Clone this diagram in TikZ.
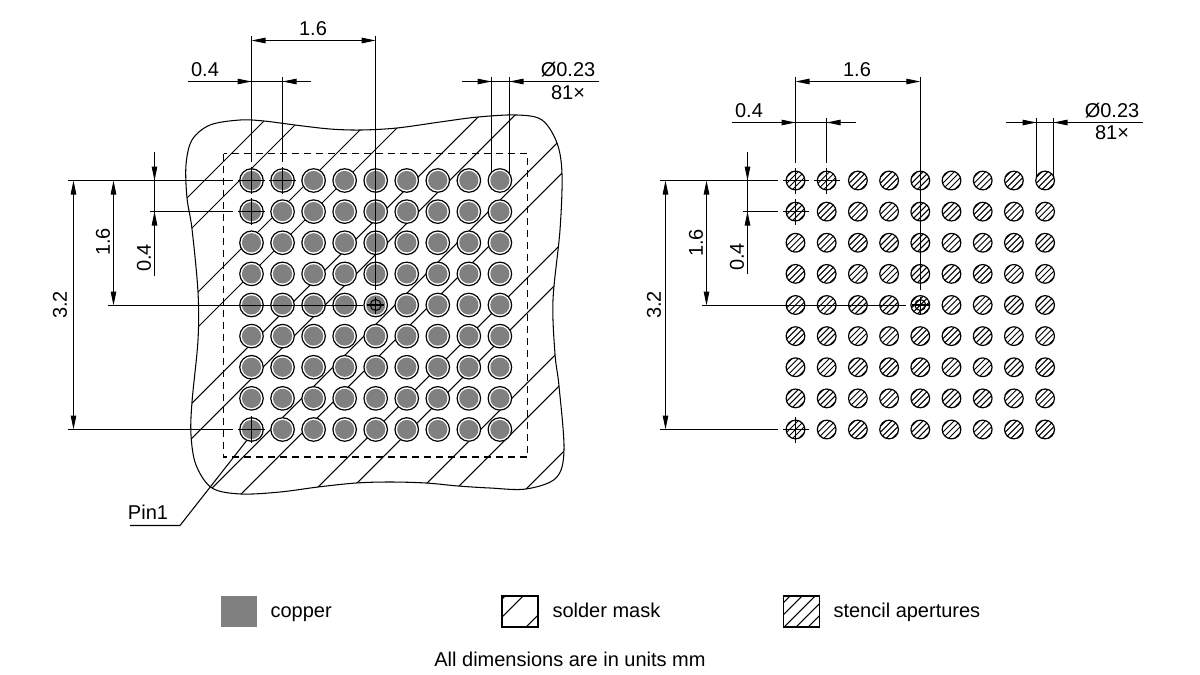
\documentclass[tikz,border=0pt]{standalone}
\usepackage{fontspec}
\setmainfont{Liberation Sans}
\usetikzlibrary{arrows.meta}
\definecolor{copper}{RGB}{128,128,128}
\newcommand{\maskshape}% outline of the solder mask
{plot[smooth cycle,tension=.55] coordinates {(186,165) (192,140) (210,125) (240,120) (264,121) (295,125) (330,129) (361,130) (397,128) (440,122) (478,117) (517,115) (542,120) (557,143) (562,174) (560,230) (553,300) (555,354) (559,386) (564,450) (556,478) (526,489) (490,488) (458,486) (426,483) (390,482) (356,483) (318,487) (280,492) (241,494) (212,488) (196,465) (191,435) (192,402) (198,340) (198,292) (192,229) (187,198)}
}
\newcommand{\crosshair}[2]% node, half length
{(#1.center) ++(-#2,0) -- ++(2*#2,0) (#1.center) ++(0,-#2) -- ++(0,2*#2)
}

\begin{document}
\begin{tikzpicture}[x=1pt,y=-1pt,line width=1.05pt]
\tikzstyle{maskpad}=[draw,shape=circle,fill=white,minimum size=23.5pt,inner sep=0pt,line width=1.2pt,
  path picture={\fill[copper] (path picture bounding box.center) circle (9.6);}]
\tikzstyle{stencilpad}=[draw,shape=circle,minimum size=18.7pt,inner sep=0pt,line width=1.2pt,
  path picture={\foreach \c in {-12,-6,0,6,12} \draw[line width=1pt] ([xshift=\c pt]path picture bounding box.center) ++(-14,14) -- ++(28,-28);}]
\tikzstyle{txt}=[inner sep=0pt,font=\fontsize{20}{24}\selectfont]
\tikzstyle{dimboth}=[{Triangle[length=14pt,width=5.5pt]}-{Triangle[length=14pt,width=5.5pt]}]
\tikzstyle{dimtip}=[-{Triangle[length=14pt,width=5.5pt]}]
\useasboundingbox (0,0) rectangle (1200,675);

% solder mask
\begin{scope}
\clip \maskshape;
\foreach \c in {385,420,490,525,595,630,700,735,805,840,910,945,1015}
  \draw (100,\c-100) -- (700,\c-700);
\end{scope}
\draw \maskshape;
\draw[dash pattern=on 7pt off 5pt] (223.5,153.5) rectangle (527.5,457);

% pads
\foreach \i in {0,...,8}
  \foreach \j in {0,...,8} {
    \draw ({251.5+31.05*\i},{180.5+31.125*\j}) node[maskpad] (p\i\j) {};
    \draw ({795.5+31.2*\i},{180.5+31.125*\j}) node[stencilpad] (s\i\j) {};
  }

% left side, top dimensions
\draw (p00.center |- 0,36) -- (p00.center |- 0,162); % 1.6
\draw (p40.center |- 0,36) -- (p40.center |- 0,290);
\draw[dimboth] (p00.center |- 0,40.5) -- (p40.center |- 0,40.5);
\draw (313,29) node[txt] (pTopA) {1.6};
\draw (p10.center |- 0,77) -- (p10.center |- 0,162); % 0.4
\draw (188,81.5) coordinate (pA) -- (311,81.5) coordinate (pB);
\draw[dimtip] (pA) -- (p00.center |- pA);
\draw[dimtip] (pB) -- (p10.center |- pB);
\draw (205,70) node[txt] (pTopB) {0.4};
\draw (491.5,77) coordinate (pC) -- (491.5,173); % 0.23
\draw (509.5,77) coordinate (pD) -- (509.5,173);
\draw (462,81.5) coordinate (pE) -- (599,81.5) coordinate (pF);
\draw[dimtip] (pE) -- (pC |- pE);
\draw[dimtip] (pF) -- (pD |- pF);
\draw (568,69.5) node[txt] (pTopC) {Ø0.23};
\draw (568,92.5) node[txt] (pTopD) {81×};

% left side, left dimensions
\draw (68,180.5) coordinate (pG) -- (233,180.5); % 3.2
\draw (68,429.5) coordinate (pH) -- (233,429.5);
\draw[dimboth] (73.5,180.5) -- (73.5,429.5);
\draw (60,305) node[txt,rotate=90] (pLeftA) {3.2};
\draw (108,305.5) coordinate (pI) -- (363,305.5); % 1.6
\draw[dimboth] (113.5,180.5) -- (113.5,305.5);
\draw (103,242) node[txt,rotate=90] (pLeftB) {1.6};
\draw (150,211.5) coordinate (pJ) -- (233,211.5); % 0.4
\draw (154.5,152) coordinate (pK) -- (154.5,276) coordinate (pL);
\draw[dimtip] (pK) -- (154.5,180.5);
\draw[dimtip] (pL) -- (154.5,211.5);
\draw (144,258) node[txt,rotate=90] (pLeftC) {0.4};

% left side, centre marks
\draw \crosshair{p00}{13.5} \crosshair{p10}{13.5} \crosshair{p01}{13.5} \crosshair{p08}{13.5};
\draw \crosshair{p44}{8.5};
\draw (p44.center) circle (5.5);

% pin 1
\draw (p08.246) -- (180,525.5) coordinate (pM) -- (130,525.5) coordinate (pN);
\draw (148,512) node[txt] (pinOne) {Pin1};

% right side, top dimensions
\draw (s00.center |- 0,77) -- (s00.center |- 0,163); % 1.6
\draw (s40.center |- 0,77) -- (s40.center |- 0,290);
\draw[dimboth] (s00.center |- 0,81.5) -- (s40.center |- 0,81.5);
\draw (857,70) node[txt] (sTopA) {1.6};
\draw (s10.center |- 0,118) -- (s10.center |- 0,163); % 0.4
\draw (732,122.5) coordinate (sA) -- (856,122.5) coordinate (sB);
\draw[dimtip] (sA) -- (s00.center |- sA);
\draw[dimtip] (sB) -- (s10.center |- sB);
\draw (749,111) node[txt] (sTopB) {0.4};
\draw (1036.5,118) coordinate (sC) -- (1036.5,178); % 0.23
\draw (1053.5,118) coordinate (sD) -- (1053.5,178);
\draw (1006,122.5) coordinate (sE) -- (1143,122.5) coordinate (sF);
\draw[dimtip] (sE) -- (sC |- sE);
\draw[dimtip] (sF) -- (sD |- sF);
\draw (1112,110.5) node[txt] (sTopC) {Ø0.23};
\draw (1112,133) node[txt] (sTopD) {81×};

% right side, left dimensions
\draw (660,180.5) coordinate (sG) -- (778,180.5); % 3.2
\draw (660,429.5) coordinate (sH) -- (778,429.5);
\draw[dimboth] (665.5,180.5) -- (665.5,429.5);
\draw (654,305) node[txt,rotate=90] (sLeftA) {3.2};
\draw (702,305.5) coordinate (sI) -- (906,305.5); % 1.6
\draw[dimboth] (706.5,180.5) -- (706.5,305.5);
\draw (696,243) node[txt,rotate=90] (sLeftB) {1.6};
\draw (743,211.5) coordinate (sJ) -- (778,211.5); % 0.4
\draw (747.5,152) coordinate (sK) -- (747.5,274) coordinate (sL);
\draw[dimtip] (sK) -- (747.5,180.5);
\draw[dimtip] (sL) -- (747.5,211.5);
\draw (737,257) node[txt,rotate=90] (sLeftC) {0.4};

% right side, centre marks
\draw \crosshair{s00}{13} \crosshair{s10}{13} \crosshair{s01}{13} \crosshair{s08}{13};
\draw \crosshair{s44}{8.5};
\draw (s44.center) circle (5.5);

% legend
\draw (239,611.5) node[fill=copper,minimum width=36pt,minimum height=31pt,inner sep=0pt] (keyCopper) {};
\draw (270,617) node[txt,anchor=base west] (txtCopper) {copper};
\draw (520,611.5) node[draw,minimum width=36pt,minimum height=31pt,inner sep=0pt,
  path picture={\foreach \c in {-30.5,-12.5,21.5} \draw ([xshift=\c pt]path picture bounding box.center) ++(-30,30) -- ++(60,-60);}] (keyMask) {};
\draw (552,617) node[txt,anchor=base west] (txtMask) {solder mask};
\draw (801.5,611.5) node[draw,minimum width=36pt,minimum height=31pt,inner sep=0pt,
  path picture={\foreach \c in {-27,-15,-2,10,22} \draw ([xshift=\c pt]path picture bounding box.center) ++(-30,30) -- ++(60,-60);}] (keyStencil) {};
\draw (833,617) node[txt,anchor=base west] (txtStencil) {stencil apertures};
\draw (570,666) node[txt,anchor=base] (txtUnits) {All dimensions are in units mm};
\end{tikzpicture}
\end{document}
